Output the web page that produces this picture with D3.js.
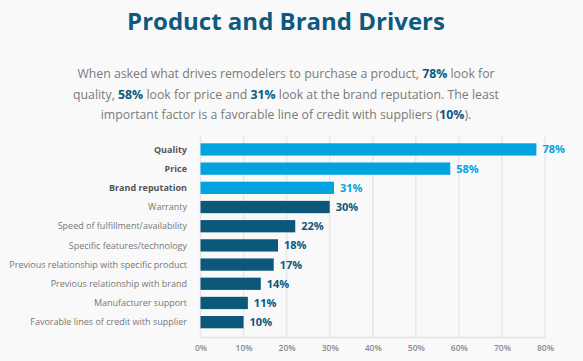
<!DOCTYPE html>
<html>
<head>
<meta charset="utf-8">
<script src="https://cdn.jsdelivr.net/npm/d3@7"></script>
<style>
  body { margin: 0; background: #f9f9f9; }
  svg { display: block; font-family: "Open Sans", sans-serif; }
</style>
</head>
<body>
<div id="chart"></div>
<script>
// chart data
var categories = [
  "Quality",
  "Price",
  "Brand reputation",
  "Warranty",
  "Speed of fulfillment/availability",
  "Specific features/technology",
  "Previous relationship with specific product",
  "Previous relationship with brand",
  "Manufacturer support",
  "Favorable lines of credit with supplier"
];
var values = [78, 58, 31, 30, 22, 18, 17, 14, 11, 10];
var highlighted = [true, true, true, false, false, false, false, false, false, false];
var tickValues = [0, 10, 20, 30, 40, 50, 60, 70, 80];

var titleText = "Product and Brand Drivers";
// subtitle lines, bold parts marked
var subtitleLines = [
  [["When asked what drives remodelers to purchase a product, ", false], ["78%", true], [" look for", false]],
  [["quality, ", false], ["58%", true], [" look for price and ", false], ["31%", true], [" look at the brand reputation. The least", false]],
  [["important factor is a favorable line of credit with suppliers (", false], ["10%", true], [").", false]]
];

var svgWidth = 583;
var svgHeight = 361;

var lightBlue = "#00a3e0";
var darkTeal = "#0b587b";

var svg = d3.select("#chart")
  .append("svg")
  .attr("width", svgWidth)
  .attr("height", svgHeight);

svg.append("rect")
  .attr("width", svgWidth)
  .attr("height", svgHeight)
  .attr("fill", "#f9f9f9");

// title
svg.append("text")
  .attr("x", 286)
  .attr("y", 30)
  .attr("text-anchor", "middle")
  .attr("font-size", "24px")
  .attr("font-weight", "bold")
  .attr("fill", "#0d5a7e")
  .text(titleText);

// subtitle
var sub = svg.append("text")
  .attr("text-anchor", "middle")
  .attr("font-size", "12.3px")
  .attr("fill", "#7a7a7a");

subtitleLines.forEach(function(line, i) {
  var first = true;
  line.forEach(function(part) {
    var t = sub.append("tspan").text(part[0]);
    if (first) {
      t.attr("x", 286).attr("y", 78 + i * 20.5);
      first = false;
    }
    if (part[1]) {
      t.attr("font-weight", "bold").attr("fill", "#0d5a7e");
    }
  });
});

// scales
var x = d3.scaleLinear()
  .domain([0, 80])
  .range([200.5, 545]);

var y = d3.scaleBand()
  .domain(categories)
  .range([136.4, 335.2])
  .padding(0.36);

// grid lines
svg.append("g")
  .selectAll("line")
  .data(tickValues)
  .enter()
  .append("line")
  .attr("x1", d => x(d))
  .attr("x2", d => x(d))
  .attr("y1", 136)
  .attr("y2", 337)
  .attr("stroke", "#e8e8e8")
  .attr("stroke-width", 1.5);

// bottom axis
var bottomAxis = d3.axisBottom(x)
  .tickValues(tickValues)
  .tickSize(0)
  .tickPadding(8)
  .tickFormat(d => d + "%");

var axisG = svg.append("g")
  .attr("transform", "translate(0, 337)")
  .call(bottomAxis);

axisG.select(".domain")
  .attr("stroke", "#e2e2e2")
  .attr("stroke-width", 1.5);

axisG.selectAll("text")
  .attr("font-family", "Open Sans, sans-serif")
  .attr("font-size", "8.5px")
  .attr("font-weight", "600")
  .attr("fill", "#8a8a8a");

// bars
svg.append("g")
  .selectAll("rect")
  .data(values)
  .enter()
  .append("rect")
  .attr("x", x(0))
  .attr("y", (d, i) => y(categories[i]))
  .attr("width", d => x(d) - x(0))
  .attr("height", y.bandwidth())
  .attr("fill", (d, i) => highlighted[i] ? lightBlue : darkTeal);

// category labels
svg.append("g")
  .selectAll("text")
  .data(categories)
  .enter()
  .append("text")
  .attr("x", 187)
  .attr("y", d => y(d) + y.bandwidth() / 2)
  .attr("dy", "0.35em")
  .attr("text-anchor", "end")
  .attr("font-size", "9px")
  .attr("font-weight", (d, i) => highlighted[i] ? "bold" : "normal")
  .attr("fill", (d, i) => highlighted[i] ? "#555" : "#777")
  .text(d => d);

// value labels
svg.append("g")
  .selectAll("text")
  .data(values)
  .enter()
  .append("text")
  .attr("x", d => x(d) + 6)
  .attr("y", (d, i) => y(categories[i]) + y.bandwidth() / 2)
  .attr("dy", "0.36em")
  .attr("font-size", "11px")
  .attr("font-weight", "bold")
  .attr("fill", (d, i) => highlighted[i] ? lightBlue : darkTeal)
  .text(d => d + "%");
</script>
</body>
</html>
